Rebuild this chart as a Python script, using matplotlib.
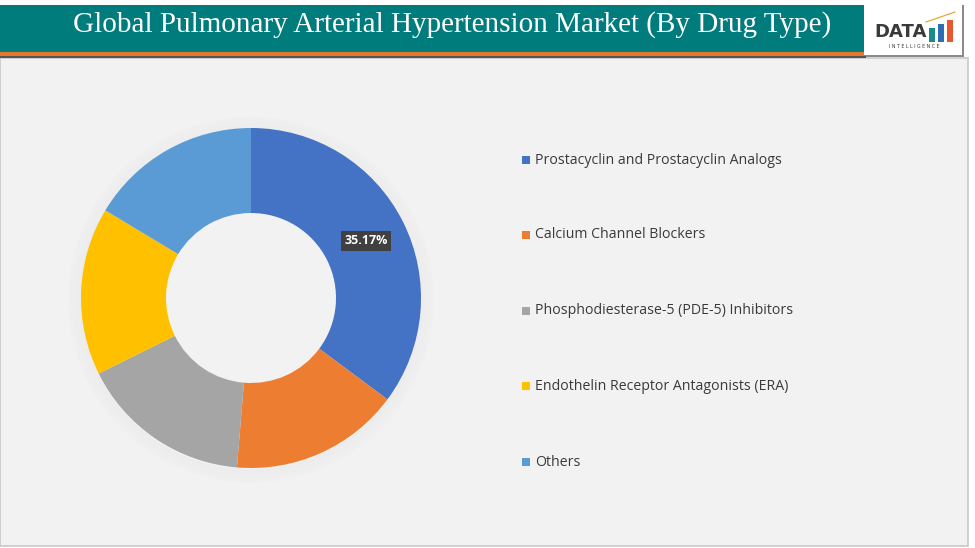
import matplotlib.pyplot as plt
from matplotlib.patches import Rectangle, Wedge

# data
labels = ["Prostacyclin and Prostacyclin Analogs", "Calcium Channel Blockers",
          "Phosphodiesterase-5 (PDE-5) Inhibitors", "Endothelin Receptor Antagonists (ERA)",
          "Others"]
shares = [35.17, 16.15, 16.35, 15.95, 16.38]
colors = ["#4472C4", "#ED7D31", "#A5A5A5", "#FFC000", "#5B9BD5"]
title = "Global Pulmonary Arterial Hypertension Market (By Drug Type)"

W, H = 975, 548
fig = plt.figure(figsize=(W / 100, H / 100), dpi=100)
fig.patch.set_facecolor("white")

# background / header in pixel coordinates
bg = fig.add_axes([0, 0, 1, 1])
bg.set_xlim(0, W)
bg.set_ylim(H, 0)
bg.axis("off")
bg.add_patch(Rectangle((0, 58), 968, 488, facecolor="#F2F2F2", edgecolor="#C8C8C8", lw=1.2))
bg.add_patch(Rectangle((0, 5), 866, 47, facecolor="#007C7C", edgecolor="none"))
bg.add_patch(Rectangle((0, 52), 866, 4, facecolor="#E8772E", edgecolor="none"))
bg.add_patch(Rectangle((0, 56), 866, 1.5, facecolor="#555555", edgecolor="none"))
bg.text(452, 25, title, color="white", fontsize=21, family="Liberation Serif",
        ha="center", va="center")

# logo box
bg.add_patch(Rectangle((866, 5), 98, 52, facecolor="#8A8A8A", edgecolor="none"))
bg.add_patch(Rectangle((864, 3), 98, 52, facecolor="white", edgecolor="none"))
bg.text(874, 32, "DATA", color="#3A3A3A", fontsize=13, fontweight="bold",
        family="DejaVu Sans", ha="left", va="center")
for x, h, c in [(929, 14, "#1B8A8A"), (938, 18, "#2E6DB4"), (947, 22, "#E8572E")]:
    bg.add_patch(Rectangle((x, 42 - h), 6, h, facecolor=c, edgecolor="none"))
bg.plot([926, 955], [22, 12], color="#E8A020", lw=0.8)
bg.text(914, 47, "I N T E L L I G E N C E", color="#3A3A3A", fontsize=3.4,
        ha="center", va="center")

# donut
cx, cy, r = 251, 298, 170
m = 1.2
ax = fig.add_axes([(cx - m * r) / W, (H - cy - m * r) / H, 2 * m * r / W, 2 * m * r / H])
ax.axis("off")
for i in range(10):
    ax.add_patch(Wedge((0.0, -0.01), 1.0 + 0.008 * (i + 1), 0, 360, width=0.012,
                       facecolor="#000000", alpha=0.012 * (10 - i) / 10 + 0.004,
                       edgecolor="none"))
wedges, _ = ax.pie(shares, colors=colors, startangle=90, counterclock=False,
                   radius=1.0, wedgeprops=dict(width=0.5, edgecolor="none"))
ax.set_xlim(-m, m)
ax.set_ylim(-m, m)

# data label
fig.text(366 / W, 1 - 241 / H, f"{shares[0]:.2f}%", color="white", fontsize=9,
         fontweight="bold", family="Open Sans", ha="center", va="center", zorder=10,
         bbox=dict(boxstyle="square,pad=0.3", facecolor="#404040", edgecolor="none"))

# legend
ys = [160, 235, 311, 386, 462]
for lab, col, y in zip(labels, colors, ys):
    bg.add_patch(Rectangle((522, y - 4), 8, 8, facecolor=col, edgecolor="none"))
    bg.text(535, y, lab, color="#3A3A3A", fontsize=10.2, family="Open Sans",
            ha="left", va="center")

fig.savefig("out.png", dpi=100, facecolor=fig.get_facecolor())
